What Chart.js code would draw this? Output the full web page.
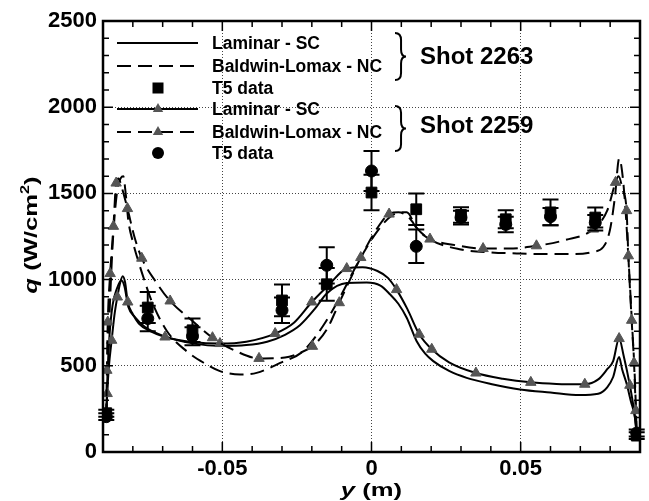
<!DOCTYPE html>
<html>
<head>
<meta charset="utf-8">
<script src="https://cdn.jsdelivr.net/npm/chart.js@4.4.0/dist/chart.umd.min.js"></script>
<style>
    html, body { margin: 0; padding: 0; background: #fff; }
    #myChart { display: block; }
</style>
</head>
<body>
<canvas id="myChart" width="649" height="501"></canvas>
<script>
// Shot 2263 - Laminar SC (solid line, no symbols)
var lamX2263 = [-0.0889, -0.0885, -0.0878, -0.0868, -0.0853, -0.0838, -0.0828, -0.0815, -0.0793, -0.0759, -0.0700, -0.0600, -0.0500, -0.0420, -0.0350, -0.0290, -0.0240, -0.0190, -0.0150, -0.0083, -0.0016, 0.0030, 0.0062, 0.0090, 0.0118, 0.0151, 0.0180, 0.0207, 0.0260, 0.0319, 0.0400, 0.0498, 0.0600, 0.0698, 0.0760, 0.0790, 0.0810, 0.0830, 0.0840, 0.0855, 0.0870, 0.0883, 0.0889];
var lamQ2263 = [210, 450, 680, 850, 950, 995, 960, 841, 783, 725, 675, 630, 615, 620, 640, 680, 735, 830, 920, 980, 983, 965, 915, 860, 779, 644, 570, 527, 470, 430, 395, 363, 345, 330, 338, 375, 435, 551, 480, 397, 290, 203, 100];

// Shot 2263 - Baldwin-Lomax NC (dashed, no symbols)
var blX2263 = [-0.0889, -0.0884, -0.0877, -0.0866, -0.0852, -0.0840, -0.0832, -0.0824, -0.0815, -0.0800, -0.0782, -0.0760, -0.0737, -0.0686, -0.0620, -0.0560, -0.0508, -0.0440, -0.0385, -0.0306, -0.0229, -0.0161, -0.0105, -0.0045, 0.0015, 0.0060, 0.0096, 0.0118, 0.0151, 0.0197, 0.0300, 0.0400, 0.0499, 0.0600, 0.0675, 0.0740, 0.0777, 0.0799, 0.0816, 0.0830, 0.0838, 0.0850, 0.0861, 0.0872, 0.0883, 0.0889];
var blQ2263 = [200, 500, 850, 1250, 1520, 1590, 1599, 1500, 1341, 1220, 1109, 990, 876, 702, 585, 515, 469, 450, 459, 517, 585, 735, 900, 1100, 1270, 1360, 1390, 1390, 1302, 1232, 1175, 1158, 1151, 1148, 1148, 1160, 1189, 1286, 1479, 1702, 1653, 1441, 1131, 783, 416, 100];

// Shot 2259 - Laminar SC (solid with triangles), marks = indices carrying a triangle
var lamX2259 = [-0.0889, -0.0886, -0.0880, -0.0871, -0.0862, -0.0852, -0.0842, -0.0834, -0.0826, -0.0817, -0.0800, -0.0780, -0.0740, -0.0692, -0.0600, -0.0508, -0.0420, -0.0323, -0.0260, -0.0200, -0.0140, -0.0083, -0.0030, 0.0020, 0.0055, 0.0084, 0.0120, 0.0160, 0.0202, 0.0260, 0.0350, 0.0440, 0.0534, 0.0620, 0.0715, 0.0760, 0.0790, 0.0810, 0.0830, 0.0845, 0.0866, 0.0880, 0.0889];
var lamQ2259 = [200, 339, 500, 648, 790, 899, 985, 1020, 985, 870, 800, 745, 700, 667, 638, 629, 640, 687, 750, 870, 975, 1064, 1072, 1050, 1010, 942, 830, 683, 596, 520, 458, 425, 404, 395, 393, 421, 480, 527, 658, 560, 387, 240, 110];
var lamMarks2259 = [1, 3, 5, 9, 13, 15, 17, 19, 21, 25, 27, 28, 30, 32, 34, 38, 40];

// Shot 2259 - Baldwin-Lomax NC (dashed with triangles)
var blX2259 = [-0.0889, -0.0887, -0.0884, -0.0876, -0.0865, -0.0856, -0.0848, -0.0838, -0.0818, -0.0795, -0.0770, -0.0720, -0.0675, -0.0600, -0.0533, -0.0460, -0.0377, -0.0290, -0.0240, -0.0198, -0.0150, -0.0108, -0.0036, 0.0020, 0.0059, 0.0090, 0.0125, 0.0160, 0.0196, 0.0280, 0.0374, 0.0460, 0.0553, 0.0650, 0.0744, 0.0790, 0.0818, 0.0828, 0.0842, 0.0855, 0.0861, 0.0872, 0.0880, 0.0886, 0.0889];
var blQ2259 = [200, 474, 754, 1035, 1309, 1560, 1586, 1540, 1412, 1250, 1124, 980, 876, 760, 663, 590, 543, 548, 575, 613, 710, 866, 1128, 1300, 1380, 1390, 1360, 1280, 1235, 1200, 1180, 1180, 1196, 1230, 1293, 1400, 1564, 1600, 1520, 1400, 1138, 764, 517, 240, 100];
var blMarks2259 = [1, 2, 3, 4, 5, 8, 10, 12, 14, 16, 19, 21, 22, 24, 28, 30, 32, 34, 36, 39, 40, 41, 42, 43];

// T5 measurements with error bars
var t5X = [-0.0889, -0.075, -0.06, -0.03, -0.015, 0, 0.015, 0.03, 0.045, 0.06, 0.075, 0.0889];
var t5Q2263 = [225, 838, 706, 879, 973, 1505, 1408, 1375, 1350, 1390, 1360, 95];
var t5Err2263 = [20, 90, 68, 92, 95, 103, 91, 45, 52, 75, 58, 20];
var t5Q2259 = [205, 774, 671, 822, 1083, 1630, 1193, 1360, 1320, 1365, 1330, 110];
var t5Err2259 = [20, 74, 52, 74, 105, 116, 97, 40, 45, 50, 45, 20];

var xTickValues = [-0.05, 0, 0.05];
var legendNames = ["Laminar - SC", "Baldwin-Lomax - NC", "T5 data"];
var shotNames = ["Shot 2263", "Shot 2259"];

var TRI = "#555555";
var DASH = [14, 7];
Chart.defaults.font.family = "'Liberation Sans', Arial, sans-serif";

function toPoints(xs, qs) {
    var pts = [];
    for (let i = 0; i < xs.length; i++) {
        pts.push({ x: xs[i], y: qs[i] });
    }
    return pts;
}

function markRadius(marks) {
    return function (ctx) {
        return marks.indexOf(ctx.dataIndex) >= 0 ? 6 : 0;
    };
}

function lineSet(xs, qs, dashed, marks) {
    return {
        data: toPoints(xs, qs),
        showLine: true,
        borderColor: "#000",
        borderWidth: 2,
        borderDash: dashed ? DASH : [],
        cubicInterpolationMode: "monotone",
        pointStyle: "triangle",
        pointRadius: marks ? markRadius(marks) : 0,
        pointHoverRadius: 0,
        pointBackgroundColor: TRI,
        pointBorderColor: TRI,
        pointBorderWidth: 1
    };
}

function triangle(ctx, x, y, r) {
    ctx.beginPath();
    ctx.moveTo(x, y - r);
    ctx.lineTo(x + r * 0.866, y + r * 0.5);
    ctx.lineTo(x - r * 0.866, y + r * 0.5);
    ctx.closePath();
    ctx.fillStyle = TRI;
    ctx.fill();
}

function brace(ctx, x, y1, y2, w) {
    var ym = (y1 + y2) / 2, h = (y2 - y1) / 2;
    ctx.beginPath();
    ctx.moveTo(x, y1);
    ctx.quadraticCurveTo(x + w * 0.55, y1, x + w * 0.55, y1 + h * 0.3);
    ctx.lineTo(x + w * 0.55, ym - h * 0.3);
    ctx.quadraticCurveTo(x + w * 0.55, ym, x + w, ym);
    ctx.quadraticCurveTo(x + w * 0.55, ym, x + w * 0.55, ym + h * 0.3);
    ctx.lineTo(x + w * 0.55, y2 - h * 0.3);
    ctx.quadraticCurveTo(x + w * 0.55, y2, x, y2);
    ctx.lineWidth = 2;
    ctx.strokeStyle = "#000";
    ctx.stroke();
}

// error bars for the T5 data
var errorBars = {
    id: "errorBars",
    afterDatasetsDraw: function (chart) {
        var ctx = chart.ctx, ys = chart.scales.y;
        ctx.save();
        ctx.strokeStyle = "#000";
        ctx.lineWidth = 2;
        chart.data.datasets.forEach(function (ds, di) {
            if (!ds.errors) return;
            var meta = chart.getDatasetMeta(di);
            meta.data.forEach(function (pt, i) {
                var top = ys.getPixelForValue(ds.data[i].y + ds.errors[i]);
                var bot = ys.getPixelForValue(ds.data[i].y - ds.errors[i]);
                ctx.beginPath();
                ctx.moveTo(pt.x, top); ctx.lineTo(pt.x, bot);
                ctx.moveTo(pt.x - 8, top); ctx.lineTo(pt.x + 8, top);
                ctx.moveTo(pt.x - 8, bot); ctx.lineTo(pt.x + 8, bot);
                ctx.stroke();
            });
        });
        ctx.restore();
    }
};

// frame, inward ticks, axis titles and the legend block
var decorations = {
    id: "decorations",
    afterDraw: function (chart) {
        var ctx = chart.ctx, a = chart.chartArea;
        var xs = chart.scales.x, ys = chart.scales.y;
        ctx.save();
        ctx.strokeStyle = "#000";
        ctx.lineWidth = 1.5;
        ctx.beginPath();
        for (let i = -8; i <= 8; i++) {
            var px = xs.getPixelForValue(i / 100);
            var len = (i % 5 === 0) ? 10 : 6;
            ctx.moveTo(px, a.bottom); ctx.lineTo(px, a.bottom - len);
            ctx.moveTo(px, a.top); ctx.lineTo(px, a.top + len);
        }
        for (let j = 1; j < 25; j++) {
            var py = ys.getPixelForValue(j * 100);
            var l2 = (j % 5 === 0) ? 10 : 6;
            ctx.moveTo(a.left, py); ctx.lineTo(a.left + l2, py);
            ctx.moveTo(a.right, py); ctx.lineTo(a.right - l2, py);
        }
        ctx.stroke();
        ctx.lineWidth = 2.5;
        ctx.strokeRect(a.left, a.top, a.right - a.left, a.bottom - a.top);

        // axis titles
        ctx.fillStyle = "#000";
        ctx.textBaseline = "alphabetic";
        var stretch = 1.35;
        // x title: y (m)
        ctx.save();
        ctx.translate((a.left + a.right) / 2, 496);
        ctx.scale(stretch, 1);
        ctx.font = "italic bold 19px 'Liberation Sans', Arial";
        var w1 = ctx.measureText("y").width;
        ctx.font = "bold 19px 'Liberation Sans', Arial";
        var w2 = ctx.measureText(" (m)").width;
        var sx = -(w1 + w2) / 2;
        ctx.font = "italic bold 19px 'Liberation Sans', Arial";
        ctx.fillText("y", sx, 0);
        ctx.font = "bold 19px 'Liberation Sans', Arial";
        ctx.fillText(" (m)", sx + w1, 0);
        ctx.restore();
        // y title: q (W/cm2)
        ctx.save();
        ctx.translate(37, 235);
        ctx.rotate(-Math.PI / 2);
        ctx.scale(stretch, 1);
        ctx.font = "italic bold 19px 'Liberation Sans', Arial";
        var q1 = ctx.measureText("q").width;
        ctx.font = "bold 19px 'Liberation Sans', Arial";
        var q2 = ctx.measureText(" (W/cm").width;
        var q4 = ctx.measureText(")").width;
        ctx.font = "bold 12px 'Liberation Sans', Arial";
        var q3 = ctx.measureText("2").width;
        var s0 = -(q1 + q2 + q3 + q4) / 2;
        ctx.font = "italic bold 19px 'Liberation Sans', Arial";
        ctx.fillText("q", s0, 0);
        ctx.font = "bold 19px 'Liberation Sans', Arial";
        ctx.fillText(" (W/cm", s0 + q1, 0);
        ctx.font = "bold 12px 'Liberation Sans', Arial";
        ctx.fillText("2", s0 + q1 + q2, -8);
        ctx.font = "bold 19px 'Liberation Sans', Arial";
        ctx.fillText(")", s0 + q1 + q2 + q3, 0);
        ctx.restore();

        // legend
        var lx1 = 117, lx2 = 198, lmx = 158, ltx = 212;
        var rows = [43, 66, 88, 109, 132, 153];
        ctx.lineWidth = 2;
        for (let r = 0; r < 6; r++) {
            var y = rows[r], kind = r % 3;
            if (kind < 2) {
                ctx.setLineDash(kind === 1 ? DASH : []);
                ctx.beginPath();
                ctx.moveTo(lx1, y); ctx.lineTo(lx2, y);
                ctx.stroke();
                ctx.setLineDash([]);
                if (r >= 3) triangle(ctx, lmx, y, 6);
            } else if (r === 2) {
                ctx.fillStyle = "#000";
                ctx.fillRect(lmx - 5.5, y - 5.5, 11, 11);
            } else {
                ctx.fillStyle = "#000";
                ctx.beginPath();
                ctx.arc(lmx, y, 6, 0, Math.PI * 2);
                ctx.fill();
            }
            ctx.fillStyle = "#000";
            ctx.font = "bold 17.5px 'Liberation Sans', Arial";
            ctx.textBaseline = "middle";
            ctx.fillText(legendNames[kind], ltx, y + 1);
        }
        brace(ctx, 395, 33, 80, 11);
        brace(ctx, 395, 106, 151, 11);
        ctx.font = "bold 24px 'Liberation Sans', Arial";
        ctx.fillText(shotNames[0], 420, 57);
        ctx.fillText(shotNames[1], 420, 126);
        ctx.restore();
    }
};

var gridColor = function (ctx) {
    var v = ctx.tick ? ctx.tick.value : null;
    return (v === 0 && ctx.scale.axis === "y") || v === 2500 ? "rgba(0,0,0,0)" : "#444";
};

var ctx = document.getElementById("myChart").getContext("2d");
var chart = new Chart(ctx, {
    type: "scatter",
    data: {
        datasets: [
            {
                data: toPoints(t5X, t5Q2259),
                errors: t5Err2259,
                pointStyle: "circle",
                pointRadius: 6,
                backgroundColor: "#000",
                borderColor: "#000"
            },
            {
                data: toPoints(t5X, t5Q2263),
                errors: t5Err2263,
                pointStyle: "rect",
                pointRadius: 7.6,
                backgroundColor: "#000",
                borderColor: "#000"
            },
            lineSet(blX2259, blQ2259, true, blMarks2259),
            lineSet(lamX2259, lamQ2259, false, lamMarks2259),
            lineSet(blX2263, blQ2263, true, null),
            lineSet(lamX2263, lamQ2263, false, null)
        ]
    },
    options: {
        responsive: false,
        animation: false,
        events: [],
        layout: { padding: { left: 0, right: 9, top: 21, bottom: 0 } },
        plugins: { legend: { display: false }, tooltip: { enabled: false } },
        scales: {
            x: {
                type: "linear",
                min: -0.09,
                max: 0.09,
                afterBuildTicks: function (scale) {
                    scale.ticks = xTickValues.map(function (v) { return { value: v }; });
                },
                afterFit: function (scale) { scale.height = 49; },
                ticks: {
                    padding: 4,
                    color: "#000",
                    font: { size: 22, weight: "bold" },
                    callback: function (v) { return v === 0 ? "0" : String(v); }
                },
                grid: { color: gridColor, lineWidth: 1, drawTicks: false },
                border: { display: false, dash: [1, 2] }
            },
            y: {
                min: 0,
                max: 2500,
                afterFit: function (scale) { scale.width = 103; },
                ticks: {
                    stepSize: 500,
                    padding: 6,
                    color: "#000",
                    font: { size: 22, weight: "bold" },
                    callback: function (v) { return String(v); }
                },
                grid: { color: gridColor, lineWidth: 1, drawTicks: false },
                border: { display: false, dash: [1, 2] }
            }
        }
    },
    plugins: [errorBars, decorations]
});
</script>
</body>
</html>
